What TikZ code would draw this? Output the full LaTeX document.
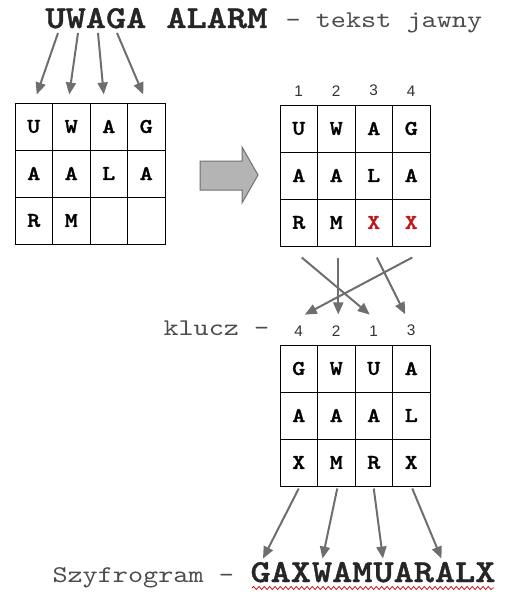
\documentclass[tikz,border=0pt]{standalone}
\usepackage{fontspec}
\setmainfont{Liberation Sans}
\setsansfont{Liberation Sans}
\newfontfamily\cour[BoldFont=lmmonolt10-bold.otf, BoldFeatures={FakeBold=1.2}, FakeStretch=1.2]{lmmono10-regular.otf}
\usetikzlibrary{arrows.meta, decorations.pathmorphing}
\usetikzlibrary{positioning}
\tikzset{every picture/.style={/utils/exec={\cour}, line width=0.75pt}}
\definecolor{arrowgrey}{HTML}{6E6E6E}
\definecolor{blockgrey}{HTML}{B4B4B4}
\definecolor{xred}{HTML}{C0161B}

\begin{document}
\begin{tikzpicture}[x=0.75pt,y=0.75pt,yscale=-1,xscale=1]

     \tikzstyle{cell} = [draw = black,
						minimum width = 28.125pt,
						minimum height = 35.25pt,
						inner sep = 0pt,
						font = \fontsize{15.7}{16}\selectfont\bfseries
						]
     \tikzstyle{num} = [inner sep = 1pt, font = \sffamily\fontsize{11.5}{12}\selectfont, text = black!80]
     \tikzstyle{big} = [inner sep = 0pt, font = \fontsize{24}{25}\selectfont\bfseries, text = black!85]
     \tikzstyle{note} = [inner sep = 0pt, font = \fontsize{18}{19}\selectfont, text = black!70]
     \tikzstyle{arrow} = [draw = arrowgrey, line width = 1.5pt, -{Triangle[length=9pt,width=7.5pt]}, arrowgrey]

\useasboundingbox (0,0) rectangle (505,592);

% plain text
\node [big, anchor=base west] (title) at (45,28) {UWAGA ALARM};
\node [note, anchor=base west] (plain) at ([xshift=13pt]title.base east) {- tekst jawny};

% grid written row by row
\foreach \t [count=\c] in {U,W,A,G}
  \node [cell] (L1\c) at ({15+37.5*\c-18.75},126.5) {\t};
\foreach \t [count=\c] in {A,A,L,A}
  \node [cell] (L2\c) at ({15+37.5*\c-18.75},173.5) {\t};
\foreach \t [count=\c] in {R,M,{},{}}
  \node [cell] (L3\c) at ({15+37.5*\c-18.75},220.5) {\t};

\draw[arrow] ([shift={(13,5)}]title.base west) -- ([shift={(3,-8)}]L11.north);
\draw[arrow] ([shift={(33,5)}]title.base west) -- ([shift={(-2,-8)}]L12.north);
\draw[arrow] ([shift={(53,5)}]title.base west) -- ([shift={(-5,-8)}]L13.north);
\draw[arrow] ([shift={(72,5)}]title.base west) -- ([shift={(-3,-8)}]L14.north);

% block arrow
\draw[draw=arrowgrey, fill=blockgrey, line width=0.75pt] (200,161) -- (242,161) -- (242,147) -- (258,175) -- (242,203) -- (242,190) -- (200,190) -- cycle;

% filled grid with padding
\foreach \t [count=\c] in {U,W,A,G}
  \node [cell] (R1\c) at ({280+37.5*\c-18.75},128.5) {\t};
\foreach \t [count=\c] in {A,A,L,A}
  \node [cell] (R2\c) at ({280+37.5*\c-18.75},175.5) {\t};
\foreach \t/\col [count=\c] in {R/black,M/black,X/xred,X/xred}
  \node [cell, text=\col] (R3\c) at ({280+37.5*\c-18.75},222.5) {\t};
\foreach \c in {1,...,4}
  \node [num, above=5pt of R1\c] (n\c) {\c};

% grid after sorting the columns
\foreach \t [count=\c] in {G,W,U,A}
  \node [cell] (B1\c) at ({280+37.5*\c-18.75},368.5) {\t};
\foreach \t [count=\c] in {A,A,A,L}
  \node [cell] (B2\c) at ({280+37.5*\c-18.75},415.5) {\t};
\foreach \t [count=\c] in {X,M,R,X}
  \node [cell] (B3\c) at ({280+37.5*\c-18.75},462.5) {\t};
\foreach \c/\k in {1/4,2/2,3/1,4/3}
  \node [num, above=5pt of B1\c] (k\k) {\k};
\node [note, anchor=base west] (key) at (163,335) {klucz -};

\draw[arrow] ([shift={(3,11)}]R31.south) -- ([shift={(-4,-9)}]k1.north);
\draw[arrow] ([shift={(2,11)}]R32.south) -- ([shift={(2,-9)}]k2.north);
\draw[arrow] ([shift={(3,11)}]R33.south) -- ([shift={(-6,-9)}]k3.north);
\draw[arrow] ([shift={(1,11)}]R34.south) -- ([shift={(6,-9)}]k4.north);

% cipher text
\node [note, anchor=base west] (cipher) at (52,582) {Szyfrogram -};
\node [big, anchor=base west] (c1) at (250,582) {GAX};
\node [big, anchor=base west] (c2) at (c1.base east) {WAM};
\node [big, anchor=base west] (c3) at (c2.base east) {UAR};
\node [big, anchor=base west] (c4) at (c3.base east) {ALX};
\draw[xred, line width=0.6pt, decorate, decoration={snake, amplitude=1.2, segment length=4}] ([shift={(2,6)}]c1.base west) -- ([shift={(-2,6)}]c4.base east);

\draw[arrow] ([shift={(0,2)}]B31.south) -- ([shift={(13,-3)}]c1.north west);
\draw[arrow] ([shift={(1,2)}]B32.south) -- ([shift={(11,-3)}]c2.north west);
\draw[arrow] ([shift={(0,2)}]B33.south) -- ([shift={(10,-3)}]c3.north west);
\draw[arrow] ([shift={(1,2)}]B34.south) -- ([shift={(7,-3)}]c4.north west);

\end{tikzpicture}
\end{document}
